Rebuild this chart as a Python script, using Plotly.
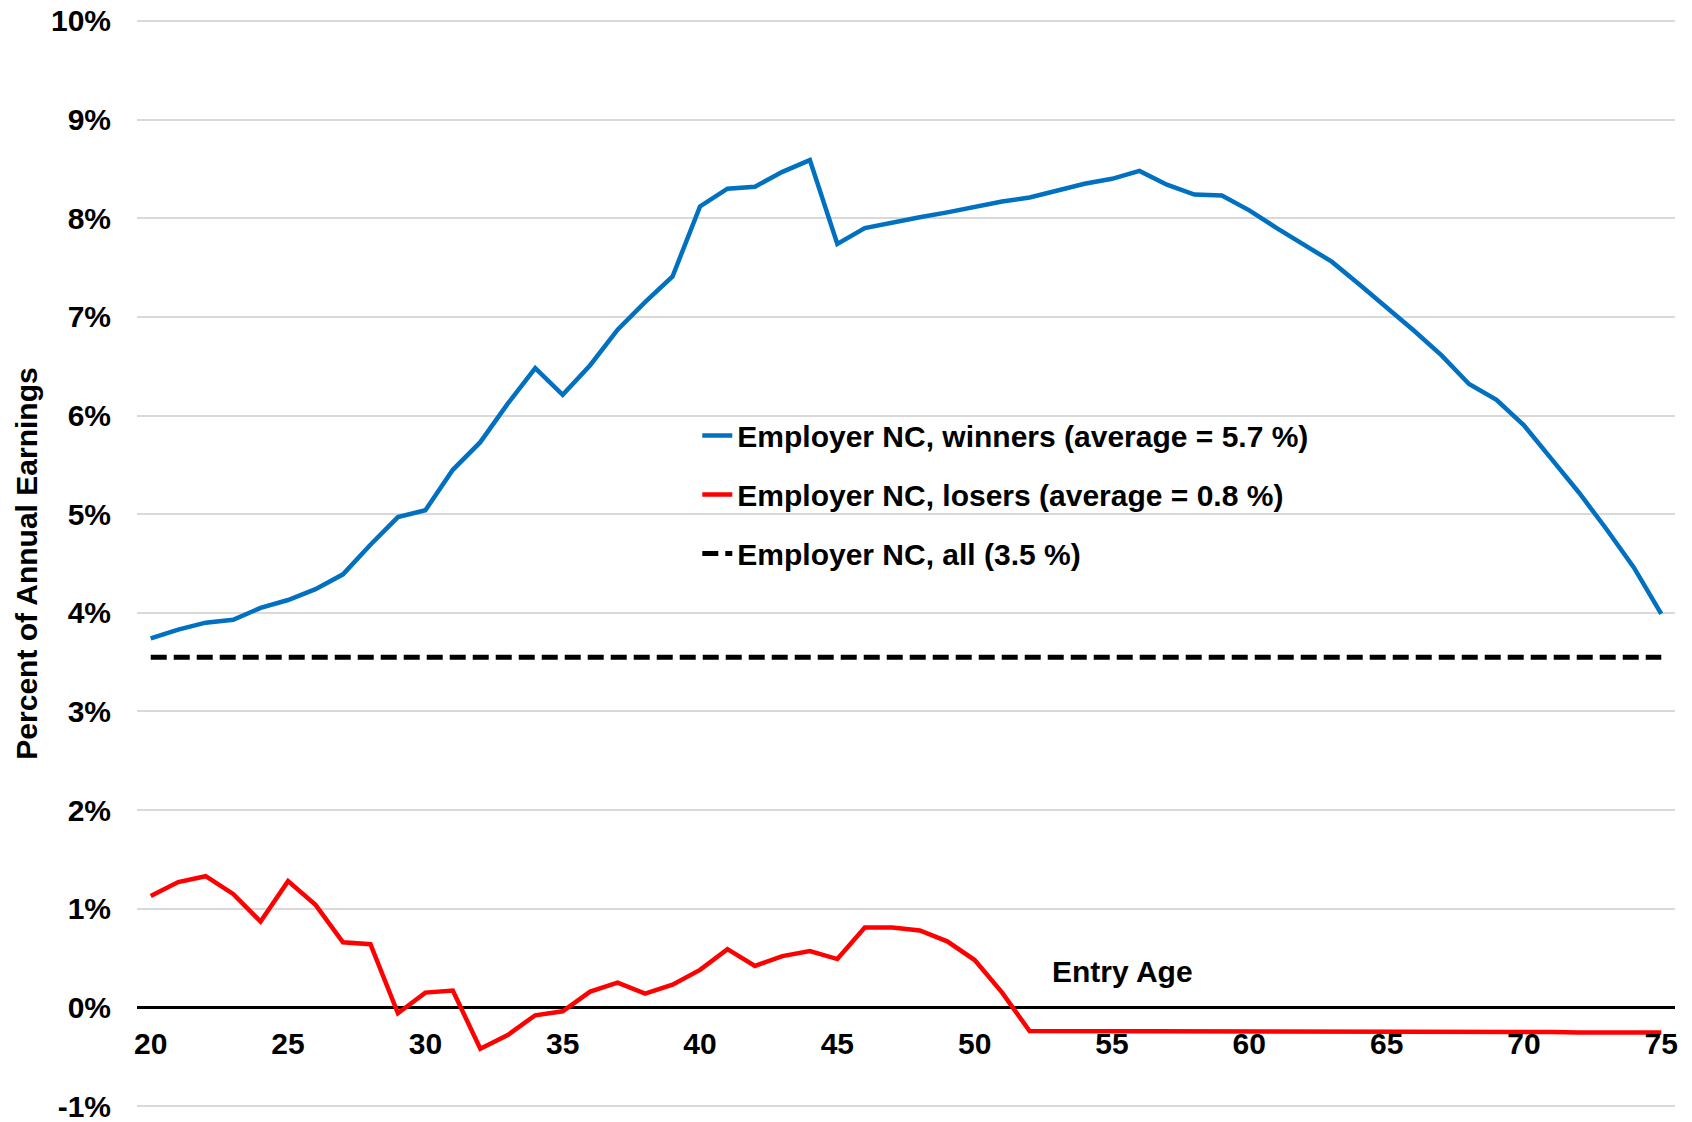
import plotly.graph_objects as go

# ---- data ----
ages = list(range(20, 76))
winners = [3.74, 3.83, 3.90, 3.93, 4.05, 4.13, 4.24, 4.39, 4.69, 4.97,
           5.04, 5.45, 5.73, 6.12, 6.48, 6.21, 6.51, 6.87, 7.15, 7.41,
           8.12, 8.30, 8.32, 8.47, 8.59, 7.74, 7.90, 7.96, 8.01, 8.06,
           8.12, 8.17, 8.21, 8.28, 8.35, 8.40, 8.48, 8.34, 8.24, 8.23,
           8.08, 7.90, 7.73, 7.56, 7.33, 7.10, 6.86, 6.61, 6.32, 6.16,
           5.90, 5.56, 5.22, 4.85, 4.46, 3.99]
losers = [1.13, 1.27, 1.33, 1.15, 0.87, 1.28, 1.04, 0.66, 0.64, -0.06,
          0.15, 0.17, -0.42, -0.28, -0.08, -0.04, 0.16, 0.25, 0.14, 0.23,
          0.38, 0.59, 0.42, 0.52, 0.57, 0.49, 0.81, 0.81, 0.78, 0.67,
          0.48, 0.15, -0.24, -0.24, -0.24, -0.24, -0.24, -0.24, -0.24, -0.245,
          -0.245, -0.245, -0.245, -0.245, -0.245, -0.245, -0.25, -0.25, -0.25, -0.25,
          -0.25, -0.25, -0.255, -0.255, -0.255, -0.255]
all_nc = 3.55

names = ["Employer NC, winners (average = 5.7 %)",
         "Employer NC, losers (average = 0.8 %)",
         "Employer NC, all (3.5 %)"]

y_tickvals = [10, 9, 8, 7, 6, 5, 4, 3, 2, 1, 0, -1]
y_ticktext = ["10%", "9%", "8%", "7%", "6%", "5%", "4%", "3%", "2%", "1%", "0%", "-1%"]
x_tickvals = [20, 25, 30, 35, 40, 45, 50, 55, 60, 65, 70, 75]
x_ticktext = [str(v) for v in x_tickvals]

FONT = "Liberation Sans, Arial, sans-serif"
FS = 30
Y_RANGE = [-1.02, 10.02]

fig = go.Figure()
fig.add_trace(go.Scatter(x=ages, y=winners, mode="lines", name=names[0],
                         legendgroup="a",
                         line=dict(color="#0070C0", width=4.5)))
fig.add_trace(go.Scatter(x=ages, y=losers, mode="lines", name=names[1],
                         legendgroup="b",
                         line=dict(color="#FF0000", width=4.5)))
fig.add_trace(go.Scatter(x=[ages[0], ages[-1]], y=[all_nc, all_nc], mode="lines",
                         name=names[2], legendgroup="c",
                         line=dict(color="black", width=5, dash="16px,7px")))

fig.add_annotation(x=55.4, y=0.36, text="Entry Age", showarrow=False,
                   xanchor="center", yanchor="middle",
                   font=dict(family=FONT, size=FS, color="black", weight="bold"))

fig.update_layout(
    width=1692, height=1122,
    margin=dict(l=137, r=17, t=19, b=14),
    paper_bgcolor="white", plot_bgcolor="white",
    font=dict(family=FONT, size=FS, color="black", weight="bold"),
    showlegend=True,
    legend=dict(x=0.3643, y=0.6413, xanchor="left", yanchor="top",
                bgcolor="rgba(0,0,0,0)", borderwidth=0,
                tracegroupgap=17, traceorder="grouped",
                font=dict(family=FONT, size=FS, color="black", weight="bold")),
    xaxis=dict(range=[19.5, 75.5], tickvals=x_tickvals, ticktext=x_ticktext,
               anchor="free", position=(0 - Y_RANGE[0]) / (Y_RANGE[1] - Y_RANGE[0]),
               showline=False, showgrid=False, zeroline=False,
               ticks="", ticklabelstandoff=16,
               tickfont=dict(family=FONT, size=FS, color="black", weight="bold")),
    yaxis=dict(range=Y_RANGE, tickvals=y_tickvals, ticktext=y_ticktext,
               showgrid=True, gridcolor="#d9d9d9", gridwidth=1.5,
               zeroline=True, zerolinecolor="black", zerolinewidth=3,
               showline=False, ticks="",
               ticklabelstandoff=25, ticklabeloverflow="allow",
               tickfont=dict(family=FONT, size=FS, color="black", weight="bold"),
               title=dict(text="Percent of Annual Earnings", standoff=4,
                          font=dict(family=FONT, size=FS, color="black", weight="bold")),
               automargin=False),
)

fig.write_html("out.html",
               config={"displayModeBar": False},
               post_script="document.body.style.margin='0px';document.body.style.overflow='hidden';")
